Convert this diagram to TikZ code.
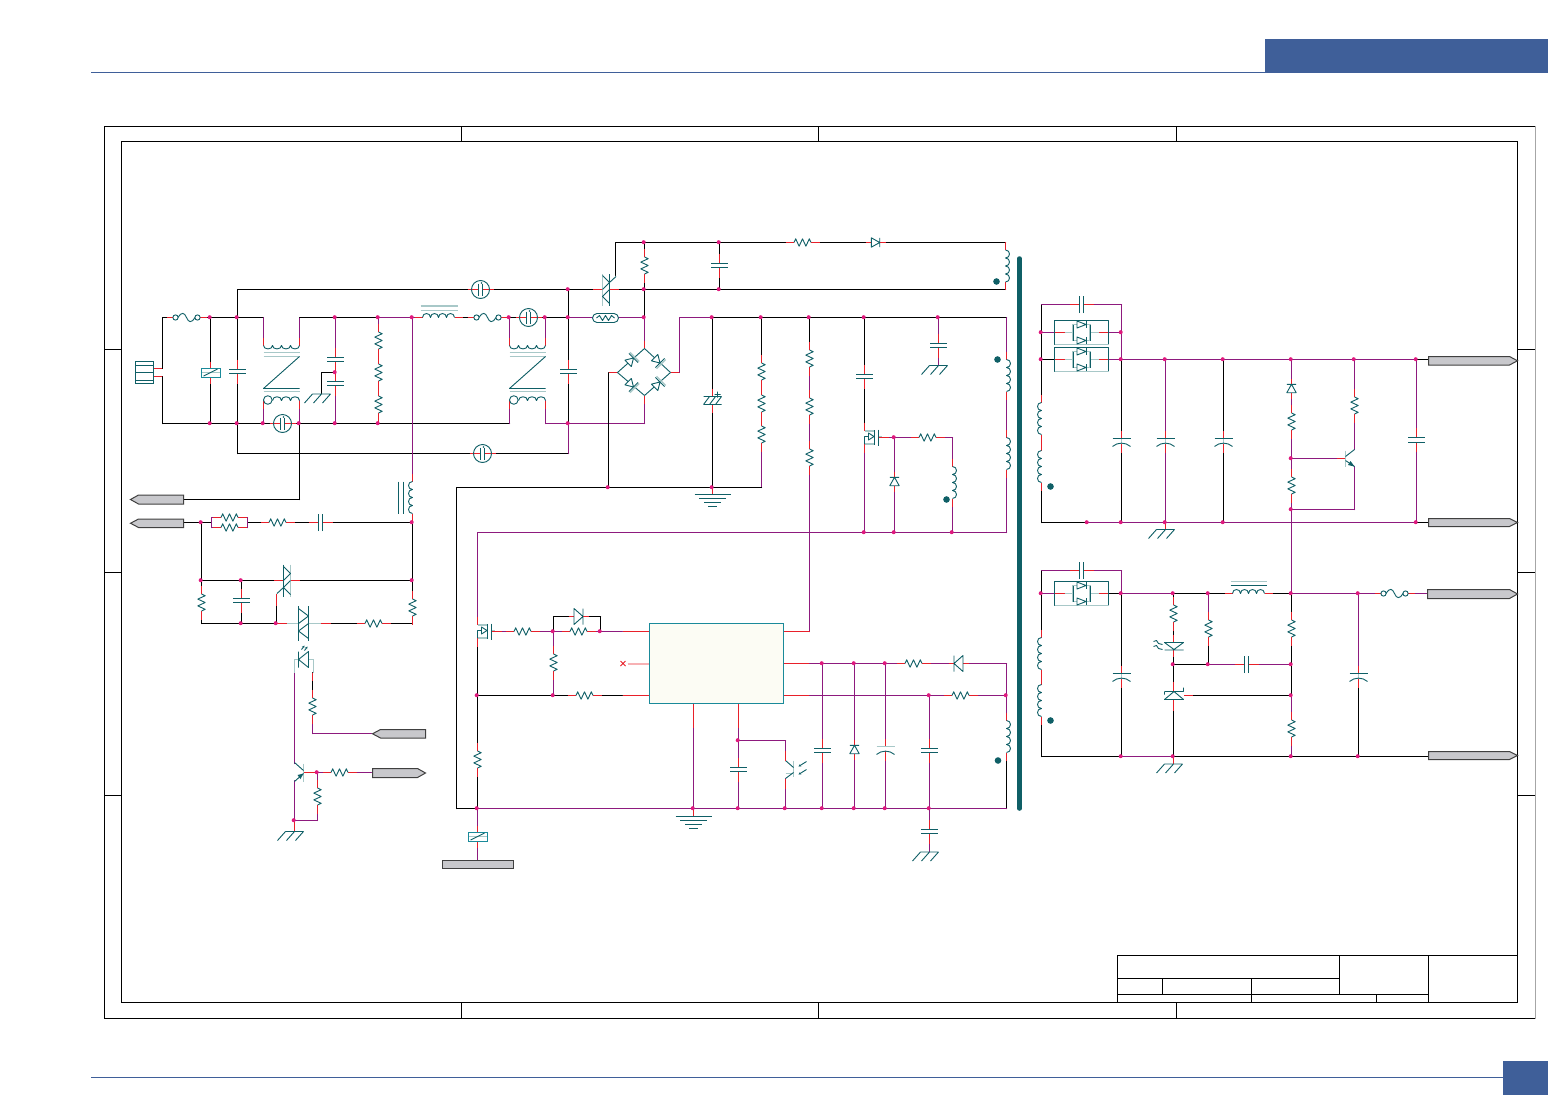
\documentclass[tikz,border=0pt]{standalone}
\usetikzlibrary{arrows.meta}
\definecolor{cTl}{HTML}{0F5F66}
\definecolor{cPu}{HTML}{8E1A7E}
\definecolor{cRd}{HTML}{E8202A}
\definecolor{cJn}{HTML}{E0197D}
\definecolor{cPl}{HTML}{A8C8C8}
\definecolor{cHd}{HTML}{3F5F99}
\definecolor{cLb}{HTML}{C8C8CC}
\definecolor{cVb}{HTML}{1A8A9A}
\definecolor{cIc}{HTML}{FCFCF4}
\tikzset{
 wk/.style={draw=black,line width=1pt,line cap=round},
 wp/.style={draw=cPu,line width=1pt,line cap=round},
 st/.style={draw=cRd,line width=1pt},
 sy/.style={draw=cTl,line width=.9pt,line join=round},
 pl/.style={draw=cPl,line width=1.4pt},
 frm/.style={draw=black,line width=1pt},
 lb/.style={draw=black!75,fill=cLb,line width=1pt,line join=miter},
 jn/.style={fill=cJn},
 dotk/.style={fill=cTl},
 icbox/.style={draw=cVb,fill=cIc,line width=1pt,inner sep=0pt,minimum width=134pt,minimum height=80pt,anchor=north west},
 rs/.pic={\fill[white](-5,-8.5) rectangle (5,8.5);
   \draw[st](0,-17)--(0,-8.5)(0,8.5)--(0,17);
   \draw[sy](0,-8.5)--(3.7,-6.8)--(-3.7,-3.4)--(3.7,0)--(-3.7,3.4)--(3.7,6.8)--(0,8.5);},
 cp/.pic={\fill[white](-3,-2.2) rectangle (3,2.2);
   \draw[st](0,-12)--(0,-2.2)(0,2.2)--(0,12);
   \draw[sy](-8.5,-2.2)--(8.5,-2.2)(-8.5,2.2)--(8.5,2.2);},
 pc/.pic={\fill[white](-3,-2) rectangle (3,3);
   \draw[st](0,-10)--(0,-2)(0,2)--(0,12);
   \draw[pl](0,-2)--(0,3);
   \draw[sy](-9,-2)--(9,-2);
   \draw[sy](-9,6) .. controls (-4,1.5) and (4,1.5) .. (9,6);},
 pd/.pic={\fill[white](-3,-2) rectangle (3,3);
   \draw[st](0,-10)--(0,-2)(0,2)--(0,12);
   \draw[pl](-9,-2)--(9,-2);
   \draw[sy](-9,6) .. controls (-4,1.5) and (4,1.5) .. (9,6);},
 ec/.pic={\fill[white](-9,-4) rectangle (9,4);
   \draw[st](0,-12)--(0,-4)(0,4)--(0,12);
   \draw[sy](-9,-4)--(9,-4)(-9,4)--(9,4)(-9,4)--(-3,-4)(-3,4)--(3,-4)(3,4)--(9,-4)(2,-6)--(8,-6)(5,-9)--(5,-3);},
 cl/.pic={\fill[white](-1,-16) rectangle (1,16);
   \draw[st](0,-24)--(0,-16)(0,16)--(0,24);
   \draw[sy](0,-16) .. controls (5.3,-16) and (5.3,-8) .. (0,-8)
     .. controls (5.3,-8) and (5.3,0) .. (0,0)
     .. controls (5.3,0) and (5.3,8) .. (0,8)
     .. controls (5.3,8) and (5.3,16) .. (0,16);},
 fs/.pic={\fill[white](-14,-4) rectangle (14,4);
   \draw[st](-20,0)--(-13.5,0)(13.5,0)--(20,0);
   \draw[sy](-11,0) circle (2.6) (11,0) circle (2.6);
   \draw[sy](-8.4,0) .. controls (-5,-6) and (-2,-5) .. (0,0) .. controls (2,5) and (5,6) .. (8.4,0);},
 vr/.pic={\draw[st](0,-11)--(0,-4.5)(0,4.5)--(0,11);
   \fill[white](-9.5,-4.5) rectangle (9.5,4.5);
   \draw[draw=cPl,line width=1.6pt](-9.5,0)--(9.5,0);
   \draw[draw=cVb,line width=1pt](-9.5,-4.5) rectangle (9.5,4.5);
   \draw[sy](-7,3.5)--(7,-3.5);},
 mv/.pic={\fill[white](0,0) circle (9);
   \draw[st](-13,0)--(-2,0)(2,0)--(13,0);
   \fill[white](-2,-3) rectangle (2,3);
   \draw[sy](-2,-6)--(-2,6)(2,-6)--(2,6);
   \fill[cTl](1,-6.5) circle (.9);
   \draw[sy](0,0) circle (9);},
 dd/.pic={\fill[white](-4.7,-4.5) rectangle (4.7,4.5);
   \draw[st](0,-10)--(0,-4.5)(0,4.5)--(0,10);
   \draw[sy](-4.7,-4.2)--(4.7,-4.2)--(0,4.2)--cycle (-4.7,4.2)--(4.7,4.2);},
 dl/.pic={\fill[white](-8,-4.5) rectangle (8,4.5);
   \draw[st](0,-10)--(0,-4.5)(0,4.5)--(0,10);
   \draw[sy](-8,-4.5)--(8,-4.5)--(0,4.5)--cycle (-8,4.5)--(8,4.5);},
 dn/.pic={\fill[white](-4.5,-4) rectangle (4.5,4);
   \draw[sy](-4.5,-4)--(4.5,-4)--(0,3.5)--cycle (-6.5,3.5)--(6.5,3.5);
   \draw[pl](-6.5,5)--(6.5,5);},
 tc/.pic={\fill[white](-3.5,-16) rectangle (3.5,16);
   \draw[st](-13,0)--(-3.5,0)(3.5,0)--(13,0);
   \draw[sy](-3.5,-16)--(-3.5,16);
   \draw[pl](3.5,-16)--(3.5,16);
   \draw[sy](-3.5,-14)--(3.5,-7)--(-3.5,0)(3.5,0)--(-3.5,7)--(3.5,14)(-3.5,7)--(-10,13);},
 tb/.pic={\fill[white](-5,-17.5) rectangle (5,17.5);
   \draw[pl](-17,0)--(-5,0)(5,0)--(17,0);
   \draw[st](-27,0)--(-17,0)(17,0)--(27,0);
   \draw[sy](-5,-17.5)--(-5,17.5)(5,-17.5)--(5,17.5);
   \draw[sy](-5,-15)--(5,-7.5)--(-5,0)--cycle (5,0)--(-5,7.5)--(5,15)--cycle;},
 ft/.pic={\fill[white](-1,-8) rectangle (10,8);
   \draw[st](0,-15)--(0,-6.5)(0,6.5)--(0,15);
   \draw[st](14,0)--(24,0);
   \draw[pl](0,-6.5)--(9.5,-6.5)(0,6.5)--(9.5,6.5)(13.5,-1)--(17,-1);
   \draw[sy](9.5,-7.5)--(9.5,7.5)(13.5,-8)--(13.5,8);
   \draw[sy](0,6.5)--(0,-1)--(4,-1)(4,-4.5)--(9.5,-1)--(4,2.5)--cycle;},
 ck/.pic={\draw[st](-18,-8)--(-18,0)(18,-8)--(18,0)(-18,55)--(-18,63)(18,55)--(18,63);
   \draw[sy](-18,0) .. controls (-18,4.5) and (-9,4.5) .. (-9,0)
     .. controls (-9,4.5) and (0,4.5) .. (0,0)
     .. controls (0,4.5) and (9,4.5) .. (9,0)
     .. controls (9,4.5) and (18,4.5) .. (18,0);
   \draw[pl](-18,7)--(18,7)(-18,11)--(18,11)(-18,46)--(18,46);
   \draw[sy](18,11)--(-18,43)--(18,43);
   \draw[sy](-13.7,54.5) circle (4.3);
   \draw[sy](-9,55) .. controls (-9,50) and (0,50) .. (0,55)
     .. controls (0,50) and (9,50) .. (9,55)
     .. controls (9,50) and (18,50) .. (18,55);},
 eg/.pic={\draw[st](0,-8)--(0,0);
   \draw[sy](-18,0)--(18,0)(-13.5,4)--(13.5,4)(-8.5,8)--(8.5,8)(-4.5,12)--(4.5,12);},
 ch/.pic={\draw[sy](-9,0)--(9,0)(-9,0)--(-17,9)(0,0)--(-8,9)(9,0)--(1,9);},
 pk/.pic={\fill[white](-27,-12) rectangle (27,12);
   \draw[st](-27,0)--(-17,0)(17,0)--(27,0);
   \draw[pl](-17,0)--(-8.5,0)(8.5,0)--(17,0);
   \draw[sy](-27,-12) rectangle (27,12);
   \draw[pl](-27,12)--(27,12);
   \draw[pl](-8.5,-8) rectangle (8.5,8);
   \draw[sy](-8.5,-8) -- (-8.5,8) (8.5,-8)--(8.5,8);
   \draw[sy,fill=white](-4.5,-11.5)--(-4.5,-4.5)--(4.5,-8)--cycle;
   \draw[sy](4.5,-11.5)--(4.5,-4.5);
   \draw[sy,fill=white](-4.5,4.5)--(-4.5,11.5)--(4.5,8)--cycle;
   \draw[sy](4.5,4.5)--(4.5,11.5);},
}
\newcommand\Wr[2]{\foreach \x/\y [count=\i] in {#2}{%
  \coordinate (p\x y\y) at (\x,\y);
  \ifnum\i>1 \draw[#1] (p\prvx y\prvy) -- (p\x y\y);\fi
  \global\let\prvx\x \global\let\prvy\y}}
\newcommand\Jn[1]{\foreach \x/\y in {#1}{\coordinate (p\x y\y) at (\x,\y); \fill[jn] ([shift={(-.8,-.3)}]p\x y\y) circle (2);}}
\newcommand\RT[4]{\draw[lb] (#1,#2)--({#3-8},#2)--(#3,{(#2+#4)/2})--({#3-8},#4)--(#1,#4)--cycle;}
\newcommand\LT[4]{\draw[lb] (#3,#2)--({#1+8},#2)--(#1,{(#2+#4)/2})--({#1+8},#4)--(#3,#4)--cycle;}
\begin{document}
\begin{tikzpicture}[x=1pt,y=-1pt]
\useasboundingbox (0,0) rectangle (1548,1095);
\fill[white] (0,0) rectangle (1548,1095);
% page header and footer
\fill[cHd] (1265,39) rectangle (1548,72.5);
\draw[draw=cHd,line width=.8pt] (91,72.5)--(1265,72.5);
\draw[draw=cHd,line width=.8pt] (91,1077.5)--(1503,1077.5);
\fill[cHd] (1503,1061) rectangle (1548,1095);
% drawing frame
\draw[frm] (1535,126.5)--(104.5,126.5)--(104.5,1018.5)--(1535,1018.5);
\draw[draw=black!35,line width=1pt] (1535.5,126)--(1535.5,1019);
\draw[frm] (121.5,141.5) rectangle (1517.5,1002.5);
\foreach \x in {461.5,818.5,1176.5} {\draw[frm] (\x,126.5)--(\x,141.5) (\x,1002.5)--(\x,1018.5);}
\foreach \y in {349.5,572.5,795.5} {\draw[frm] (104.5,\y)--(121.5,\y) (1517.5,\y)--(1535,\y);}
% title block
\draw[frm] (1117.5,955.5) rectangle (1517.5,1002.5);
\draw[frm] (1117.5,978.5)--(1339.5,978.5) (1117.5,994.5)--(1428.5,994.5);
\draw[frm] (1162.5,978.5)--(1162.5,994.5) (1251.5,978.5)--(1251.5,1002.5) (1339.5,955.5)--(1339.5,994.5) (1376.5,994.5)--(1376.5,1002.5) (1428.5,955.5)--(1428.5,1002.5);
\begin{scope}[shift={(.5,.5)}]
% isolation bar
\draw[draw=cTl,line width=4.5pt,line cap=round] (1019,258)--(1019,808);
% ---------- wires: primary input
\Wr{st}{153/368,162/368}
\Wr{st}{153/376,162/376}
\Wr{wk}{162/368,162/317,263/317}
\Wr{wk}{162/376,162/423,509/423}
\Wr{wk}{210/317,210/423}
\Wr{wk}{237/453,237/289,1005/289}
\Wr{wk}{237/453,568/453}
\Wr{wk}{568/289,568/423}
\Wr{wp}{568/423,568/453}
\Wr{wp}{263/317,263/345}
\Wr{wp}{263/400,263/423}
\Wr{wp}{299/317,299/345}
\Wr{wp}{299/400,299/423}
\Wr{wk}{299/423,299/499,183/499}
\Wr{wk}{299/317,378/317}
\Wr{wp}{378/317,420/317}
\Wr{wk}{420/317,568/317}
\Wr{wp}{568/317,644/317}
\Wr{wp}{335/317,335/423}
\Wr{wk}{335/372,321/372,321/393}
\Wr{wp}{378/317,378/423}
\Wr{wp}{412/317,412/522}
\Wr{wp}{509/317,509/345}
\Wr{wp}{545/317,545/345}
\Wr{wp}{509/400,509/423}
\Wr{wp}{545/400,545/423,644/423,644/403}
\Wr{st}{644/395,644/403}
% snubber, control network
\Wr{wk}{183/522,211/522}
\Wr{wk}{247/522,412/522}
\Wr{wp}{211/517,247/517,247/527,211/527,211/517}
\Wr{wk}{201/522,201/623,412/623,412/522}
\Wr{wk}{201/580,412/580}
\Wr{wk}{241/580,241/623}
\Wr{wk}{276/605,276/623}
\Wr{st}{276/593,276/605}
\Wr{wp}{294/660,294/763}
\Wr{wk}{312/672,312/706}
\Wr{st}{312/672,312/680}
\Wr{wp}{312/706,312/733,371/733}
\Wr{wp}{294/780,294/820,317/820,317/772}
\Wr{wp}{317/772,371/772}
\Wr{st}{303/772,317/772}
\Wr{st}{294/820,294/831}
% upper centre
\Wr{wk}{615/275,615/242,1005/242,1005/289}
\Wr{wk}{644/242,644/317}
\Wr{wk}{719/242,719/289}
\Wr{wp}{644/317,644/348}
\Wr{st}{644/340,644/348}
\Wr{st}{617/372,608/372}
\Wr{wk}{608/372,608/487}
\Wr{st}{670/372,679/372}
\Wr{wp}{679/372,679/317,712/317}
\Wr{wk}{712/317,1006/317}
\Wr{wp}{1006/317,1006/532,477/532,477/616}
\Wr{wk}{712/317,712/487}
\Wr{wk}{761/317,761/371}
\Wr{wp}{761/371,761/487}
\Wr{wk}{456/808,456/487,761/487}
\Wr{wk}{809/317,809/358}
\Wr{wp}{809/358,809/631}
\Wr{st}{809/631,783/631}
\Wr{wk}{864/317,864/424}
\Wr{wp}{864/445,864/532}
\Wr{wp}{888/437,952/437,952/532}
\Wr{wp}{894/437,894/532}
\Wr{wp}{938/317,938/365}
% controller
\Wr{wk}{456/808,477/808}
\Wr{wk}{477/640,477/808}
\Wr{wp}{477/808,477/859}
\Wr{wk}{477/695,622/695}
\Wr{st}{622/695,649/695}
\Wr{wp}{500/631,622/631}
\Wr{st}{622/631,649/631}
\Wr{wk}{553/631,553/616,600/616,600/631}
\Wr{wp}{553/631,553/695}
\Wr{st}{783/663,809/663}
\Wr{wp}{809/663,1006/663,1006/760}
\Wr{wk}{1006/760,1006/808}
\Wr{st}{783/695,809/695}
\Wr{wp}{809/695,1006/695}
\Wr{wp}{477/808,1006/808}
\Wr{wp}{693/727,693/808}
\Wr{st}{693/703,693/727}
\Wr{wp}{738/727,738/808}
\Wr{st}{738/703,738/727}
\Wr{wp}{738/740,785/740,785/760}
\Wr{wp}{785/778,785/808}
\Wr{wp}{822/663,822/808}
\Wr{wp}{854/663,854/808}
\Wr{wp}{885/663,885/808}
\Wr{wp}{929/695,929/851}
% secondary, upper
\Wr{wk}{1041/304,1041/522}
\Wr{wp}{1041/304,1121/304,1121/359}
\Wr{wp}{1041/332,1054/332}
\Wr{wp}{1108/332,1121/332}
\Wr{wk}{1041/359,1054/359}
\Wr{wp}{1108/359,1416/359}
\Wr{wk}{1416/359,1428/359}
\Wr{wk}{1121/359,1121/522}
\Wr{wp}{1165/359,1165/522}
\Wr{st}{1165/522,1165/529}
\Wr{wk}{1223/359,1223/522}
\Wr{wp}{1291/359,1291/593}
\Wr{wp}{1354/359,1354/449}
\Wr{wp}{1354/466,1354/509,1291/509}
\Wr{wp}{1291/458,1336/458}
\Wr{st}{1336/458,1345/458}
\Wr{wp}{1416/359,1416/522}
\Wr{wk}{1041/522,1087/522}
\Wr{wp}{1087/522,1416/522}
\Wr{wk}{1416/522,1428/522}
% secondary, lower
\Wr{wk}{1041/570,1041/756,1121/756}
\Wr{wp}{1041/570,1121/570,1121/593}
\Wr{wk}{1121/593,1121/756}
\Wr{wp}{1041/593,1054/593}
\Wr{wk}{1108/593,1121/593}
\Wr{wp}{1121/593,1173/593}
\Wr{wk}{1173/593,1291/593}
\Wr{wp}{1291/593,1427/593}
\Wr{wp}{1121/756,1173/756}
\Wr{wk}{1173/756,1428/756}
\Wr{wk}{1173/593,1173/756}
\Wr{st}{1173/756,1173/763}
\Wr{wp}{1208/593,1208/628}
\Wr{wk}{1208/628,1208/664}
\Wr{wk}{1173/664,1208/664}
\Wr{wp}{1208/664,1291/664}
\Wr{wk}{1291/593,1291/695}
\Wr{wp}{1291/695,1291/756}
\Wr{wk}{1192/695,1291/695}
\Wr{st}{1183/695,1192/695}
\Wr{wp}{1358/593,1358/675}
\Wr{wk}{1358/675,1358/756}
% ---------- components, primary
\draw[draw=cTl,line width=1pt] (135,361) rectangle (153,383);
\draw[draw=cTl,line width=.8pt] (135,364.5)--(153,364.5) (135,379.5)--(153,379.5);
\draw[draw=cTl,line width=1pt] (135,372)--(153,372);
\pic at (186,317) {fs};
\pic at (210,372) {vr};
\pic at (237,371) {cp};
\pic at (281,345) {ck};
\pic at (527,345) {ck};
\pic at (335,359) {cp};
\pic at (335,383) {cp};
\pic at (321,393.5) {ch};
\pic at (378,340) {rs};
\pic at (378,372) {rs};
\pic at (378,404) {rs};
\pic[rotate=90] at (438,317) {cl};
\draw[pl] (420,305.5)--(457,305.5) (420,310)--(457,310);
\pic at (487,317) {fs};
\pic at (568,371) {cp};
\pic at (480,289) {mv};
\pic at (528,317) {mv};
\pic at (282,423) {mv};
\pic at (482,453) {mv};
\pic[xscale=-1] at (412,497) {cl};
\draw[sy] (398,481)--(398,513) (403,481)--(403,513);
\pic[rotate=90] at (229,517) {rs};
\pic[rotate=90] at (229,527) {rs};
\pic[rotate=90] at (277,522) {rs};
\pic[rotate=90] at (320,522) {cp};
\pic at (201,602) {rs};
\pic at (241,600) {cp};
\pic at (412,607) {rs};
\pic[rotate=90] at (373,623) {rs};
\pic at (286.5,580) {tc};
\pic at (303,623) {tb};
% photo device
\draw[pl] (294,672)--(294,659)--(298,659) (308,659)--(313,659)--(313,672);
\draw[sy] (298,651)--(298,667) (298,659)--(308,651)--(308,667)--cycle;
\draw[sy,-{Stealth[length=2.5pt,width=2.5pt]}] (301,649)--(304,645);
\draw[sy,-{Stealth[length=2.5pt,width=2.5pt]}] (304,650)--(307,646);
\pic at (312,706) {rs};
% input-side transistor
\draw[pl] (303,763)--(303,781);
\draw[sy] (303,770)--(294,762) (303,773)--(294,781);
\fill[cTl] (303,773)--(297,774.5)--(300,778.5)--cycle;
\pic at (317,796) {rs};
\pic[rotate=90] at (339,772) {rs};
\pic at (294,831) {ch};
% labels, left
\LT{130}{494.5}{183}{503.5}
\LT{130}{518.5}{183}{527}
\LT{372}{729}{425}{737.5}
\RT{372}{768}{425}{777}
% ---------- upper centre
\pic[rotate=180] at (605.5,289) {tc};
\pic at (644,265) {rs};
\pic at (719,265) {cp};
\pic[rotate=90] at (802,242) {rs};
\pic[rotate=90] at (875,242) {dd};
\pic at (1005,265.5) {cl};
\fill[dotk] (996,281) circle (3.3);
\draw[sy,fill=white,rounded corners=4.5pt] (592,313) rectangle (618,322);
\draw[sy] (596,317.5)--(599,315)--(602,320)--(605,315)--(608,320)--(611,315)--(614,317.5);
\Wr{sy}{617/372,644/348,670/372,644/395,617/372}
\pic[rotate=135] at (630.5,360) {dn};
\pic[rotate=45] at (657,360) {dn};
\pic[rotate=45] at (630.5,384) {dn};
\pic[rotate=135] at (657,384) {dn};
\pic at (712,400) {ec};
\pic at (712,494) {eg};
\pic at (761,371) {rs};
\pic at (761,403) {rs};
\pic at (761,434) {rs};
\pic at (809,358) {rs};
\pic at (809,406) {rs};
\pic at (809,457) {rs};
\pic at (864,376) {cp};
\pic at (864,437) {ft};
\pic[rotate=90] at (927,437) {rs};
\pic at (952,482) {cl};
\fill[dotk] (946,499) circle (3.3);
\pic[rotate=180] at (894,481) {dd};
\pic at (938,345) {cp};
\pic at (938,365) {ch};
\pic at (1006,375) {cl};
\pic at (1006,453) {cl};
\fill[dotk] (997,359) circle (3.3);
% ---------- controller
\node[icbox] (ic) at (648.5,622.5) {};
\draw[draw=cRd!35,line width=2pt] (627,663)--(648,663);
\draw[draw=cRd,line width=1pt] (620,660.5)--(625,665.5) (620,665.5)--(625,660.5);
\pic at (477,631) {ft};
\pic[rotate=90] at (522,631) {rs};
\pic[rotate=90] at (578,631) {rs};
\pic[rotate=90] at (578,616) {dl};
\pic at (553,662) {rs};
\pic[rotate=90] at (584,695) {rs};
\pic at (477,759) {rs};
\pic at (477,836) {vr};
\draw[lb] (442,859.5) rectangle (513,868);
\pic at (693,816) {eg};
\pic at (738,769) {cp};
% opto transistor
\draw[pl] (793,760)--(793,776) (785,773)--(793,773);
\draw[sy] (793,767)--(785,760) (793,772)--(785,778);
\draw[st] (785,750)--(785,760) (785,778)--(785,788);
\draw[sy,-{Stealth[length=2.5pt,width=2.5pt]}] (806,761)--(798,766);
\draw[sy,-{Stealth[length=2.5pt,width=2.5pt]}] (806,769)--(798,774);
\pic at (822,750) {cp};
\pic[rotate=180] at (854,749) {dd};
\pic at (885,748) {pd};
\pic at (929,750) {cp};
\pic at (929,831) {cp};
\pic at (929,851.5) {ch};
\pic[rotate=90] at (913,663) {rs};
\pic[rotate=-90] at (958,663) {dl};
\pic[rotate=90] at (960,695) {rs};
\pic at (1006,736) {cl};
\fill[dotk] (997.5,760) circle (3.3);
% ---------- secondary, upper
\pic[rotate=90] at (1081,304) {cp};
\pic at (1081,332) {pk};
\pic at (1081,359) {pk};
\pic[xscale=-1] at (1041,418) {cl};
\pic[xscale=-1] at (1041,466) {cl};
\fill[dotk] (1050,486) circle (3.3);
\pic at (1121,440) {pc};
\pic at (1165,440) {pc};
\pic at (1223,440) {pc};
\pic at (1165,529) {ch};
\pic[rotate=180] at (1291,388) {dd};
\pic at (1291,421) {rs};
\pic at (1291,485) {rs};
\pic at (1354,405) {rs};
\draw[pl] (1345,450)--(1345,466);
\draw[sy] (1345,456)--(1354,449) (1345,460)--(1354,466);
\fill[cTl] (1354,466)--(1347.5,464.5)--(1350,460.5)--cycle;
\pic at (1416,439.5) {cp};
\RT{1428}{356}{1517}{364.5}
\RT{1428}{518}{1517}{526}
% ---------- secondary, lower
\pic[rotate=90] at (1081,570) {cp};
\pic at (1081,593) {pk};
\pic[xscale=-1] at (1041,653) {cl};
\pic[xscale=-1] at (1041,700) {cl};
\fill[dotk] (1050,720) circle (3.3);
\pic at (1121,675) {pc};
\pic at (1173,613) {rs};
\pic at (1208,628) {rs};
\pic at (1291,628) {rs};
\pic at (1291,728) {rs};
% indicator LED
\fill[white] (1164,642) rectangle (1183,649);
\draw[st] (1173,634)--(1173,642) (1173,649)--(1173,656);
\draw[sy] (1164,642)--(1183,642)--(1173.5,649)--cycle (1164,649.5)--(1183,649.5);
\draw[sy] (1153,641)--(1156,640)--(1158,643)--(1162,644) (1153,646)--(1156,645)--(1158,648)--(1162,649);
% shunt regulator
\fill[white] (1164,691) rectangle (1183,699);
\draw[st] (1173,681)--(1173,691) (1173,699)--(1173,710);
\draw[sy] (1164,699)--(1183,699)--(1173.5,691)--cycle (1164,691)--(1183,691) (1164,691)--(1164,694) (1183,691)--(1183,687);
\pic[rotate=90] at (1246,664) {cp};
\pic[rotate=90] at (1248,593) {cl};
\draw[pl] (1230,581)--(1266,581);
\draw[sy] (1230,585)--(1266,585);
\pic at (1394,593) {fs};
\pic at (1358,675) {pc};
\pic at (1173,763.5) {ch};
\RT{1427}{589}{1517}{598}
\RT{1428}{751}{1517}{759}
% ---------- junctions
\Jn{210/317,237/317,335/317,378/317,412/317,509/317,545/317,568/317,644/317,568/289,644/289,719/289,644/242,719/242,210/423,237/423,263/423,299/423,335/423,378/423,568/423,335/372,412/522,201/522,201/580,241/580,412/580,241/623,276/623,294/820,317/772,477/695,553/631,600/631,553/695,477/808,693/808,738/808,785/808,822/808,854/808,885/808,929/808,738/740,822/663,854/663,885/663,929/695,1006/695,712/317,761/317,809/317,864/317,938/317,712/487,608/487,864/532,894/532,952/532,894/437,1041/332,1041/359,1121/332,1121/359,1165/359,1223/359,1291/359,1354/359,1416/359,1291/458,1291/509,1087/522,1121/522,1165/522,1223/522,1416/522,1041/593,1121/593,1173/593,1208/593,1291/593,1358/593,1173/664,1208/664,1291/664,1291/695,1121/756,1173/756,1291/756,1358/756}
\end{scope}
\end{tikzpicture}
\end{document}
